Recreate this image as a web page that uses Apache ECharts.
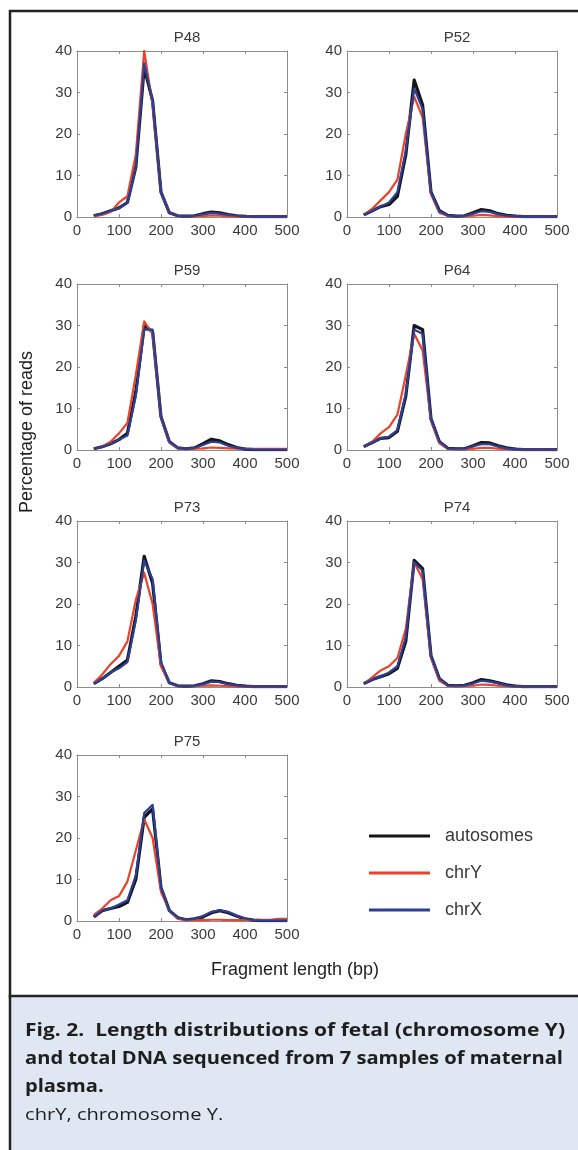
<!DOCTYPE html>
<html>
<head>
<meta charset="utf-8">
<script src="https://cdn.jsdelivr.net/npm/echarts@6/dist/echarts.min.js"></script>
<style>
html,body{margin:0;padding:0;background:#fff;}
#chart{width:578px;height:1150px;}
</style>
</head>
<body>
<div id="chart"></div>
<script>
// ---- data ----
var fragmentLength = [40,60,80,100,120,140,160,180,200,220,240,260,280,300,320,340,360,380,400,420,440,460,480,500];
var sampleNames = ['P48','P52','P59','P64','P73','P74','P75'];
var seriesNames = ['autosomes','chrY','chrX'];
var xTicks = [0,100,200,300,400,500];
var yTicks = [0,10,20,30,40];

var P48_autosomes = [0.3,0.8,1.5,2.2,3.5,12,36,28,6,1,0.3,0.2,0.3,0.8,1.2,1.0,0.6,0.3,0.15,0.1,0.1,0.1,0.1,0.1];
var P48_chrY      = [0.2,0.5,1.2,3.5,5,15,40,27,6,1,0.3,0.2,0.2,0.2,0.4,0.3,0.2,0.1,0.1,0.1,0.1,0.1,0.1,0.1];
var P48_chrX      = [0.3,0.8,1.5,2.2,3.5,12,37,28,6,1,0.3,0.2,0.3,0.7,1.0,0.8,0.5,0.3,0.1,0.1,0.1,0.1,0.1,0.1];

var P52_autosomes = [0.5,1.5,2.5,3,5,15,33,27,6,1.5,0.4,0.2,0.3,1.0,1.8,1.5,0.8,0.4,0.2,0.1,0.1,0.1,0.1,0.1];
var P52_chrY      = [0.5,2,4,6,9,20,29,24,5.5,1.0,0.3,0.2,0.2,0.3,0.5,0.4,0.2,0.1,0.1,0.1,0.1,0.1,0.1,0.1];
var P52_chrX      = [0.5,1.5,2.5,3.5,6,16,31,26,6,1.3,0.4,0.2,0.3,0.8,1.4,1.2,0.7,0.3,0.2,0.1,0.1,0.1,0.1,0.1];

var P59_autosomes = [0.3,0.8,1.5,2.5,4,14,30,28.5,8,2,0.5,0.3,0.5,1.5,2.6,2.2,1.3,0.6,0.2,0.1,0.1,0.1,0.1,0.1];
var P59_chrY      = [0.3,0.8,2,4,6.5,18,31,28,8,1.8,0.4,0.3,0.3,0.4,0.6,0.5,0.4,0.3,0.3,0.3,0.3,0.3,0.3,0.3];
var P59_chrX      = [0.3,0.8,1.5,2.5,3.5,13,29,29,8,2,0.5,0.3,0.5,1.2,2.0,1.8,1.0,0.5,0.2,0.1,0.1,0.1,0.1,0.1];

var P64_autosomes = [0.8,1.8,2.8,3,4.5,13,30,29,7.5,2,0.4,0.3,0.3,1.0,1.8,1.7,1.0,0.5,0.2,0.1,0.1,0.1,0.1,0.1];
var P64_chrY      = [0.8,2,4,5.5,8.5,18,28,24,7,1.6,0.3,0.2,0.2,0.3,0.5,0.5,0.3,0.2,0.1,0.1,0.1,0.1,0.1,0.1];
var P64_chrX      = [0.8,1.8,2.8,3.2,4.8,13.5,29,28,7.5,2,0.4,0.3,0.3,0.9,1.4,1.4,0.8,0.4,0.2,0.1,0.1,0.1,0.1,0.1];

var P73_autosomes = [0.8,2,3.5,5,6.5,17,31.5,25,5.5,1,0.3,0.2,0.3,0.8,1.5,1.3,0.8,0.4,0.2,0.1,0.1,0.1,0.1,0.1];
var P73_chrY      = [1,3,5.5,7.5,11,21,27.5,20,5,1,0.3,0.2,0.2,0.3,0.4,0.3,0.2,0.1,0.1,0.1,0.1,0.1,0.1,0.1];
var P73_chrX      = [0.8,2,3.5,4.5,6,16,30.5,26,6,1,0.3,0.2,0.3,0.7,1.3,1.2,0.7,0.4,0.2,0.1,0.1,0.1,0.1,0.1];

var P74_autosomes = [0.8,1.8,2.5,3.2,4.5,11,30.5,28.5,7.5,2,0.4,0.3,0.4,1.0,1.8,1.5,1.0,0.5,0.2,0.1,0.1,0.1,0.1,0.1];
var P74_chrY      = [0.8,2.3,4,5,7,14,30,26,7,1.5,0.3,0.2,0.2,0.3,0.6,0.5,0.3,0.2,0.1,0.1,0.1,0.1,0.1,0.1];
var P74_chrX      = [0.8,1.8,2.5,3.5,5,12,30,28,7.5,2,0.4,0.3,0.4,0.9,1.5,1.3,0.9,0.4,0.2,0.1,0.1,0.1,0.1,0.1];

var P75_autosomes = [1,2.5,3,3.5,4.5,10,25,27,8,2.5,0.8,0.3,0.5,1.0,2.0,2.5,2.0,1.2,0.5,0.2,0.1,0.1,0.1,0.1];
var P75_chrY      = [1.5,3,5,6,9.5,17,24.5,20,7,2.5,0.5,0.2,0.2,0.2,0.3,0.3,0.2,0.2,0.2,0.2,0.3,0.3,0.5,0.5];
var P75_chrX      = [1,2.5,3,4,5,11,26,28,8,2.5,0.8,0.3,0.5,1.2,2.2,2.6,2.2,1.3,0.6,0.2,0.1,0.1,0.1,0.1];

var panelData = {
  P48: [P48_autosomes, P48_chrY, P48_chrX],
  P52: [P52_autosomes, P52_chrY, P52_chrX],
  P59: [P59_autosomes, P59_chrY, P59_chrX],
  P64: [P64_autosomes, P64_chrY, P64_chrX],
  P73: [P73_autosomes, P73_chrY, P73_chrX],
  P74: [P74_autosomes, P74_chrY, P74_chrX],
  P75: [P75_autosomes, P75_chrY, P75_chrX]
};

// ---- layout / style ----
var colLeft = [77, 347];
var rowTop = [51, 284, 521, 755];
var plotW = 210, plotH = 166;
var lineColors = {autosomes: '#161616', chrY: '#e8442b', chrX: '#2b3f98'};
var lineWidths = {autosomes: 3.2, chrY: 2.2, chrX: 2.2};
var drawOrder = [0, 2, 1]; // autosomes, chrX, then chrY on top
var axisGray = '#8c8c8c';
var labelColor = '#3a3a3a';
var FONT = '"Liberation Sans", Arial, sans-serif';

var grids = [], xAxes = [], yAxes = [], series = [], titles = [];

sampleNames.forEach(function (name, i) {
  var col = i % 2, row = Math.floor(i / 2);
  var left = colLeft[col], top = rowTop[row];
  grids.push({left: left, top: top, width: plotW, height: plotH, containLabel: false});
  var tick = {show: true, inside: true, length: 3, lineStyle: {color: axisGray, width: 1}};
  var line = {show: true, onZero: false, lineStyle: {color: axisGray, width: 1}};
  xAxes.push({
    type: 'value', gridIndex: i, position: 'bottom', min: 0, max: 500, interval: 100,
    axisLine: line, axisTick: tick, splitLine: {show: false},
    axisLabel: {show: true, color: labelColor, fontSize: 15, fontFamily: FONT, margin: 6, showMinLabel: true, showMaxLabel: true}
  });
  xAxes.push({
    type: 'value', gridIndex: i, position: 'top', min: 0, max: 500, interval: 100,
    axisLine: line, axisTick: tick, splitLine: {show: false}, axisLabel: {show: false}
  });
  yAxes.push({
    type: 'value', gridIndex: i, position: 'left', min: 0, max: 40, interval: 10,
    axisLine: line, axisTick: tick, splitLine: {show: false},
    axisLabel: {show: true, color: labelColor, fontSize: 15, fontFamily: FONT, margin: 5}
  });
  yAxes.push({
    type: 'value', gridIndex: i, position: 'right', min: 0, max: 40, interval: 10,
    axisLine: line, axisTick: tick, splitLine: {show: false}, axisLabel: {show: false}
  });
  titles.push({
    text: name, left: left + plotW / 2, top: top - 26, textAlign: 'center',
    textStyle: {fontSize: 15, fontWeight: 'normal', color: labelColor, fontFamily: FONT}
  });
  drawOrder.forEach(function (k) {
    var sName = seriesNames[k];
    var vals = panelData[name][k];
    series.push({
      name: sName, type: 'line', xAxisIndex: 2 * i, yAxisIndex: 2 * i,
      data: fragmentLength.map(function (x, j) { return [x, vals[j]]; }),
      showSymbol: false, symbol: 'none', color: lineColors[sName],
      lineStyle: {color: lineColors[sName], width: lineWidths[sName], join: 'round'},
      z: 3 + k, silent: true, animation: false
    });
  });
});

// caption fitting (scale caption font to the reference's justified line widths)
var CAP_FONT_FAMILY = '"Open Sans"';
function fitScale(text, font, target) {
  var c = document.createElement('canvas').getContext('2d');
  c.font = font;
  return target / c.measureText(text).width;
}
var capLine1 = 'Fig. 2.  Length distributions of fetal (chromosome Y)';
var capLine2 = 'and total DNA sequenced from 7 samples of maternal';
var capLine3 = 'plasma.';
var capLine4 = 'chrY, chromosome Y.';
var capScale2 = fitScale(capLine2, 'bold 17px ' + CAP_FONT_FAMILY, 538);
var capScale1 = fitScale(capLine1, 'bold 17px ' + CAP_FONT_FAMILY, 540);

function capText(t, y, bold, sc) {
  return {
    type: 'text', x: 25, y: y, scaleX: sc, z: 10, silent: true,
    style: {text: t, fill: '#1e1e1e', fontSize: 17, fontWeight: bold ? 'bold' : 'normal',
      fontFamily: CAP_FONT_FAMILY, textVerticalAlign: 'middle', textAlign: 'left'}
  };
}

var chart = echarts.init(document.getElementById('chart'), null, {renderer: 'canvas'});
chart.setOption({
  animation: false,
  backgroundColor: '#ffffff',
  title: titles,
  grid: grids,
  xAxis: xAxes,
  yAxis: yAxes,
  series: series,
  legend: {
    show: true, orient: 'vertical', left: 364, top: 821, itemGap: 17,
    itemWidth: 61, itemHeight: 3, icon: 'rect', selectedMode: false,
    data: seriesNames,
    textStyle: {fontSize: 18, lineHeight: 20, color: labelColor, fontFamily: FONT, padding: [0, 0, 0, 10]}
  },
  graphic: [
    {type: 'rect', z: -10, silent: true, shape: {x: 10, y: 11, width: 620, height: 986},
      style: {fill: '#ffffff', stroke: '#222222', lineWidth: 2.5}},
    {type: 'rect', z: -9, silent: true, shape: {x: 10, y: 996, width: 620, height: 220},
      style: {fill: '#dfe8f2', stroke: '#222222', lineWidth: 2.5}},
    {type: 'text', x: 27, y: 432, rotation: Math.PI / 2, silent: true,
      style: {text: 'Percentage of reads', fill: '#1e1e1e', fontSize: 18, fontFamily: FONT,
        textAlign: 'center', textVerticalAlign: 'middle'}},
    {type: 'text', x: 295, y: 970, silent: true,
      style: {text: 'Fragment length (bp)', fill: '#1e1e1e', fontSize: 18, fontFamily: FONT,
        textAlign: 'center', textVerticalAlign: 'middle'}},
    capText(capLine1, 1031, true, capScale1),
    capText(capLine2, 1059, true, capScale2),
    capText(capLine3, 1087, true, capScale2),
    capText(capLine4, 1115, false, capScale2)
  ]
});
</script>
</body>
</html>
